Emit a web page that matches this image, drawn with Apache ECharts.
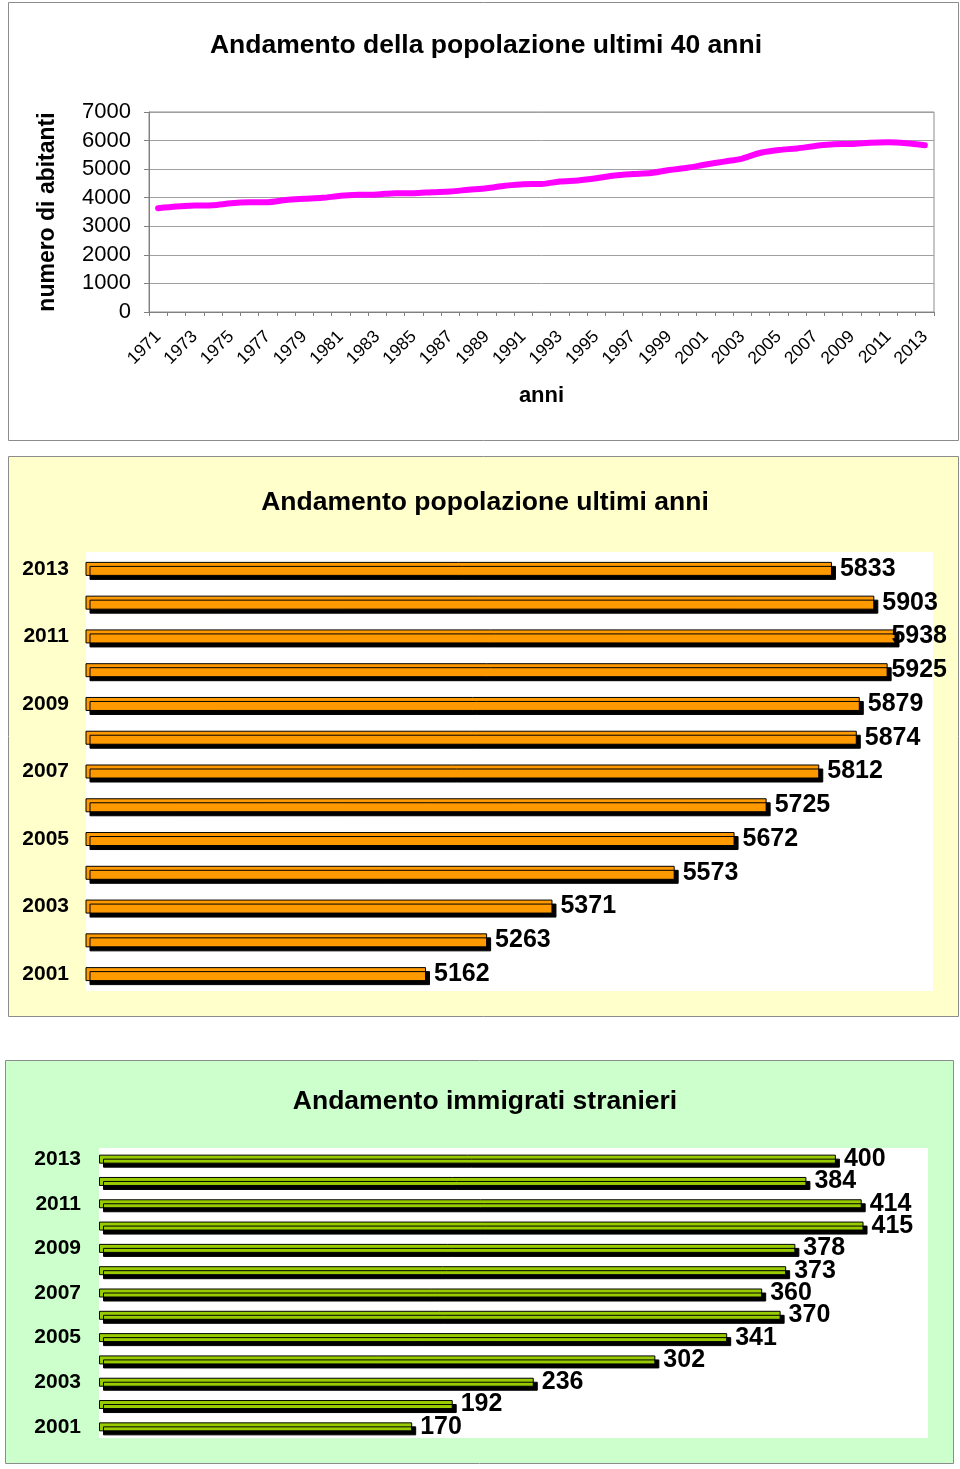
<!DOCTYPE html>
<html>
<head>
<meta charset="utf-8">
<script src="https://cdn.jsdelivr.net/npm/echarts@6/dist/echarts.min.js"></script>
<style>
html,body{margin:0;padding:0;background:#fff;}
#c{width:960px;height:1469px;}
</style>
</head>
<body>
<div id="c"></div>
<script>
// ---- data ----
const lineTitle = 'Andamento della popolazione ultimi 40 anni';
const years = ['1971','1972','1973','1974','1975','1976','1977','1978','1979','1980',
  '1981','1982','1983','1984','1985','1986','1987','1988','1989','1990',
  '1991','1992','1993','1994','1995','1996','1997','1998','1999','2000',
  '2001','2002','2003','2004','2005','2006','2007','2008','2009','2010',
  '2011','2012','2013'];
const population = [3630,3690,3725,3740,3805,3840,3845,3920,3960,3995,
  4065,4100,4115,4160,4160,4195,4220,4280,4335,4420,
  4475,4480,4570,4605,4680,4780,4830,4865,4970,5050,
  5162,5263,5371,5573,5672,5725,5812,5874,5879,5925,
  5938,5903,5833];
const yTicks = [0,1000,2000,3000,4000,5000,6000,7000];

const popTitle = 'Andamento popolazione ultimi anni';
const recentYears = ['2001','2002','2003','2004','2005','2006','2007','2008','2009','2010','2011','2012','2013'];
const recentPop = [5162,5263,5371,5573,5672,5725,5812,5874,5879,5925,5938,5903,5833];

const immTitle = 'Andamento immigrati stranieri';
const immigrants = [170,192,236,302,341,370,360,373,378,415,414,384,400];

// ---- chart ----
const FF = "'Liberation Sans', Arial, sans-serif";
const chart = echarts.init(document.getElementById('c'), null, {renderer:'canvas'});

function clampLabel(rightLimit){
  return function(p){
    const over = p.labelRect.x + p.labelRect.width - rightLimit;
    return over > 0 ? {dx: -over} : {};
  };
}

const titleStyle = {fontFamily:FF, fontSize:26.5, fontWeight:'bold', color:'#000'};

const option = {
  animation: false,
  backgroundColor: '#ffffff',
  textStyle: {fontFamily: FF},
  graphic: [
    {type:'rect', z:-10, shape:{x:8.5,y:2.5,width:950,height:438}, style:{fill:'#ffffff', stroke:'#8c8c8c', lineWidth:1}},
    {type:'rect', z:-10, shape:{x:8.5,y:456.5,width:950,height:560}, style:{fill:'#FFFFCC', stroke:'#8c8c8c', lineWidth:1}},
    {type:'rect', z:-9, shape:{x:86,y:552,width:847,height:439}, style:{fill:'#ffffff'}},
    {type:'rect', z:-10, shape:{x:5.5,y:1060.5,width:948,height:403}, style:{fill:'#CCFFCC', stroke:'#8c8c8c', lineWidth:1}},
    {type:'rect', z:-9, shape:{x:99,y:1148,width:829,height:290}, style:{fill:'#ffffff'}}
  ],
  title: [
    {text: lineTitle, left: 481, top: 27, textAlign:'center', textStyle: titleStyle},
    {text: popTitle, left: 480, top: 484, textAlign:'center', textStyle: titleStyle},
    {text: immTitle, left: 480, top: 1083, textAlign:'center', textStyle: titleStyle}
  ],
  grid: [
    {left:149, top:112, width:785, height:200, show:true, backgroundColor:'transparent', borderColor:'#8c8c8c', borderWidth:1},
    {left:86, top:552, width:847, height:439, show:false},
    {left:99, top:1148, width:829, height:290, show:false}
  ],
  xAxis: [
    {gridIndex:0, type:'category', data: years, boundaryGap:true,
     name:'anni', nameLocation:'middle', nameGap:73,
     nameTextStyle:{fontFamily:FF, fontSize:22, fontWeight:'bold', color:'#000'},
     axisLine:{lineStyle:{color:'#808080', width:1}},
     axisTick:{show:true, interval:0, alignWithLabel:false, length:4, lineStyle:{color:'#808080'}},
     axisLabel:{interval:1, rotate:45, fontFamily:FF, fontSize:17.5, color:'#000', margin:22},
     splitLine:{show:false}},
    {gridIndex:1, type:'value', min:4600, max:6000, interval:200,
     axisLine:{show:false}, axisTick:{show:false}, axisLabel:{show:false}, splitLine:{show:false}},
    {gridIndex:2, type:'value', min:0, max:450, interval:50,
     axisLine:{show:false}, axisTick:{show:false}, axisLabel:{show:false}, splitLine:{show:false}}
  ],
  yAxis: [
    {gridIndex:0, type:'value', min:0, max:7000, interval:1000,
     name:'numero di abitanti', nameLocation:'middle', nameGap:90, nameRotate:90,
     nameTextStyle:{fontFamily:FF, fontSize:23, fontWeight:'bold', color:'#000'},
     axisLine:{show:true, lineStyle:{color:'#808080'}},
     axisTick:{show:true, length:5, lineStyle:{color:'#808080'}},
     axisLabel:{fontFamily:FF, fontSize:22, color:'#000', margin:18,
       formatter: v => yTicks.indexOf(v) >= 0 ? String(v) : ''},
     splitLine:{show:true, lineStyle:{color:'#a0a0a0', width:1}}},
    {gridIndex:1, type:'category', data: recentYears,
     axisLine:{show:false}, axisTick:{show:false},
     axisLabel:{interval:1, fontFamily:FF, fontSize:21, fontWeight:'bold', color:'#000', margin:17}},
    {gridIndex:2, type:'category', data: recentYears,
     axisLine:{show:false}, axisTick:{show:false},
     axisLabel:{interval:1, fontFamily:FF, fontSize:21, fontWeight:'bold', color:'#000', margin:18}}
  ],
  series: [
    {type:'line', xAxisIndex:0, yAxisIndex:0, data: population, smooth:0.3,
     showSymbol:false, symbol:'none',
     lineStyle:{color:'#FF00FF', width:6, cap:'round', join:'round'}},
    {type:'bar', xAxisIndex:1, yAxisIndex:1, data: recentPop, barWidth:14,
     itemStyle:{color:'#FF9900', borderColor:'#000', borderWidth:1,
       shadowColor:'#000', shadowOffsetX:4, shadowOffsetY:4, shadowBlur:0},
     label:{show:true, position:'right', distance:8, fontFamily:FF, fontSize:25, fontWeight:'bold', color:'#000'},
     labelLayout: clampLabel(947)},
    {type:'bar', xAxisIndex:2, yAxisIndex:2, data: immigrants, barWidth:9,
     itemStyle:{color:'#99CC00', borderColor:'#000', borderWidth:1,
       shadowColor:'#000', shadowOffsetX:4, shadowOffsetY:4, shadowBlur:0},
     label:{show:true, position:'right', distance:8, fontFamily:FF, fontSize:25, fontWeight:'bold', color:'#000'},
     labelLayout: clampLabel(947)}
  ]
};
chart.setOption(option);
</script>
</body>
</html>
